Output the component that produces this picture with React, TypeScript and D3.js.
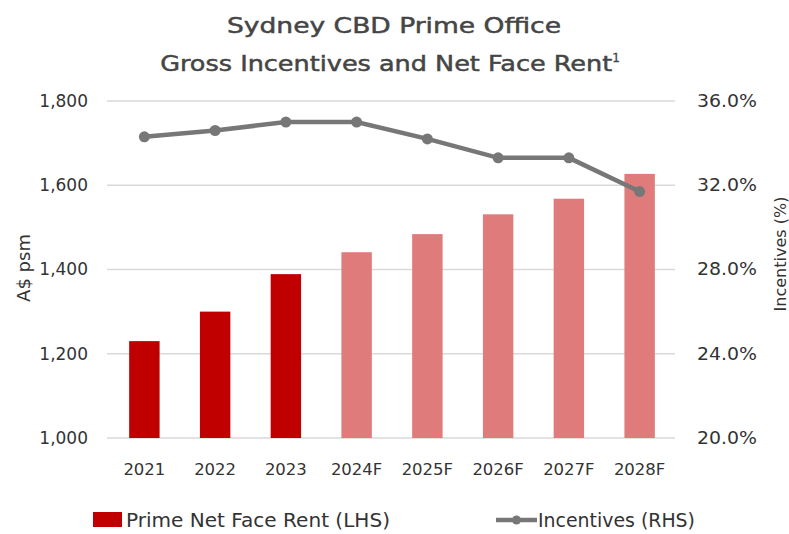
import React from "react";
import * as d3 from "d3";

const categories = ["2021", "2022", "2023", "2024F", "2025F", "2026F", "2027F", "2028F"];
const rentValues = [1230, 1300, 1389, 1441, 1484, 1531, 1568, 1627];
const forecastFlags = [false, false, false, true, true, true, true, true];
const incentiveValues = [34.3, 34.6, 35.0, 35.0, 34.2, 33.3, 33.3, 31.7];
const leftTicks = [1000, 1200, 1400, 1600, 1800];
const rightTicks = [20, 24, 28, 32, 36];

const W = 789;
const H = 534;
const plot = { left: 109, right: 675, top: 101, bottom: 438 };
const FONT = "'DejaVu Sans', sans-serif";
const TEXT = "#333333";

export default function App() {
  const x = d3.scaleBand<string>().domain(categories).range([plot.left, plot.right]).paddingInner(0.57).paddingOuter(0.285);
  const yL = d3.scaleLinear().domain([1000, 1800]).range([plot.bottom, plot.top]);
  const yR = d3.scaleLinear().domain([20, 36]).range([plot.bottom, plot.top]);
  const cx = (c: string) => (x(c) as number) + x.bandwidth() / 2;
  const line = d3
    .line<number>()
    .x((_, i) => cx(categories[i]))
    .y((d) => yR(d));

  return (
    <svg width={W} height={H} style={{ position: "absolute", left: 0, top: 0, background: "#fff" }} fontFamily={FONT}>
      <text x={394} y={33} textAnchor="middle" fontSize={22} fill="#454545" stroke="#454545" strokeWidth={0.5} textLength={334} lengthAdjust="spacingAndGlyphs">
        Sydney CBD Prime Office
      </text>
      <text x={390} y={71} textAnchor="middle" fontSize={22} fill="#454545" stroke="#454545" strokeWidth={0.5}>
        <tspan textLength={452} lengthAdjust="spacingAndGlyphs">Gross Incentives and Net Face Rent</tspan>
        <tspan fontSize={12} dy={-9} strokeWidth={0.3}>1</tspan>
      </text>

      {leftTicks.map((t) => (
        <g key={t}>
          <line x1={plot.left - 2} x2={plot.right} y1={yL(t)} y2={yL(t)} stroke="#d9d9d9" strokeWidth={1.5} />
          <text x={88} y={yL(t)} dy="0.35em" textAnchor="end" fontSize={17} fill={TEXT}>
            {d3.format(",")(t)}
          </text>
        </g>
      ))}
      {rightTicks.map((t) => (
        <text key={t} x={697} y={yR(t)} dy="0.35em" textAnchor="start" fontSize={17} fill={TEXT} textLength={60} lengthAdjust="spacingAndGlyphs">
          {d3.format(".1f")(t)}%
        </text>
      ))}

      <text transform={`translate(30,268) rotate(-90)`} textAnchor="middle" fontSize={18} fill={TEXT}>
        A$ psm
      </text>
      <text transform={`translate(786,254) rotate(-90)`} textAnchor="middle" fontSize={16} fill={TEXT}>
        Incentives (%)
      </text>

      {categories.map((c, i) => (
        <rect
          key={c}
          x={x(c)}
          y={yL(rentValues[i])}
          width={x.bandwidth()}
          height={yL(1000) - yL(rentValues[i])}
          fill={forecastFlags[i] ? "#E07B7B" : "#C00000"}
        />
      ))}

      <path d={line(incentiveValues) || ""} fill="none" stroke="#777777" strokeWidth={4.5} />
      {incentiveValues.map((v, i) => (
        <circle key={i} cx={cx(categories[i])} cy={yR(v)} r={5.5} fill="#777777" />
      ))}

      {categories.map((c) => (
        <text key={c} x={cx(c)} y={475} textAnchor="middle" fontSize={16.5} fill={TEXT}>
          {c}
        </text>
      ))}

      <rect x={93} y={512} width={29} height={15} fill="#C00000" />
      <text x={126} y={520} dy="0.35em" fontSize={19} fill={TEXT} textLength={264} lengthAdjust="spacingAndGlyphs">
        Prime Net Face Rent (LHS)
      </text>
      <line x1={496} x2={537} y1={520} y2={520} stroke="#777777" strokeWidth={4.5} />
      <circle cx={516.5} cy={520} r={4.5} fill="#777777" />
      <text x={538} y={520} dy="0.35em" fontSize={19} fill={TEXT} textLength={157} lengthAdjust="spacingAndGlyphs">
        Incentives (RHS)
      </text>
    </svg>
  );
}
